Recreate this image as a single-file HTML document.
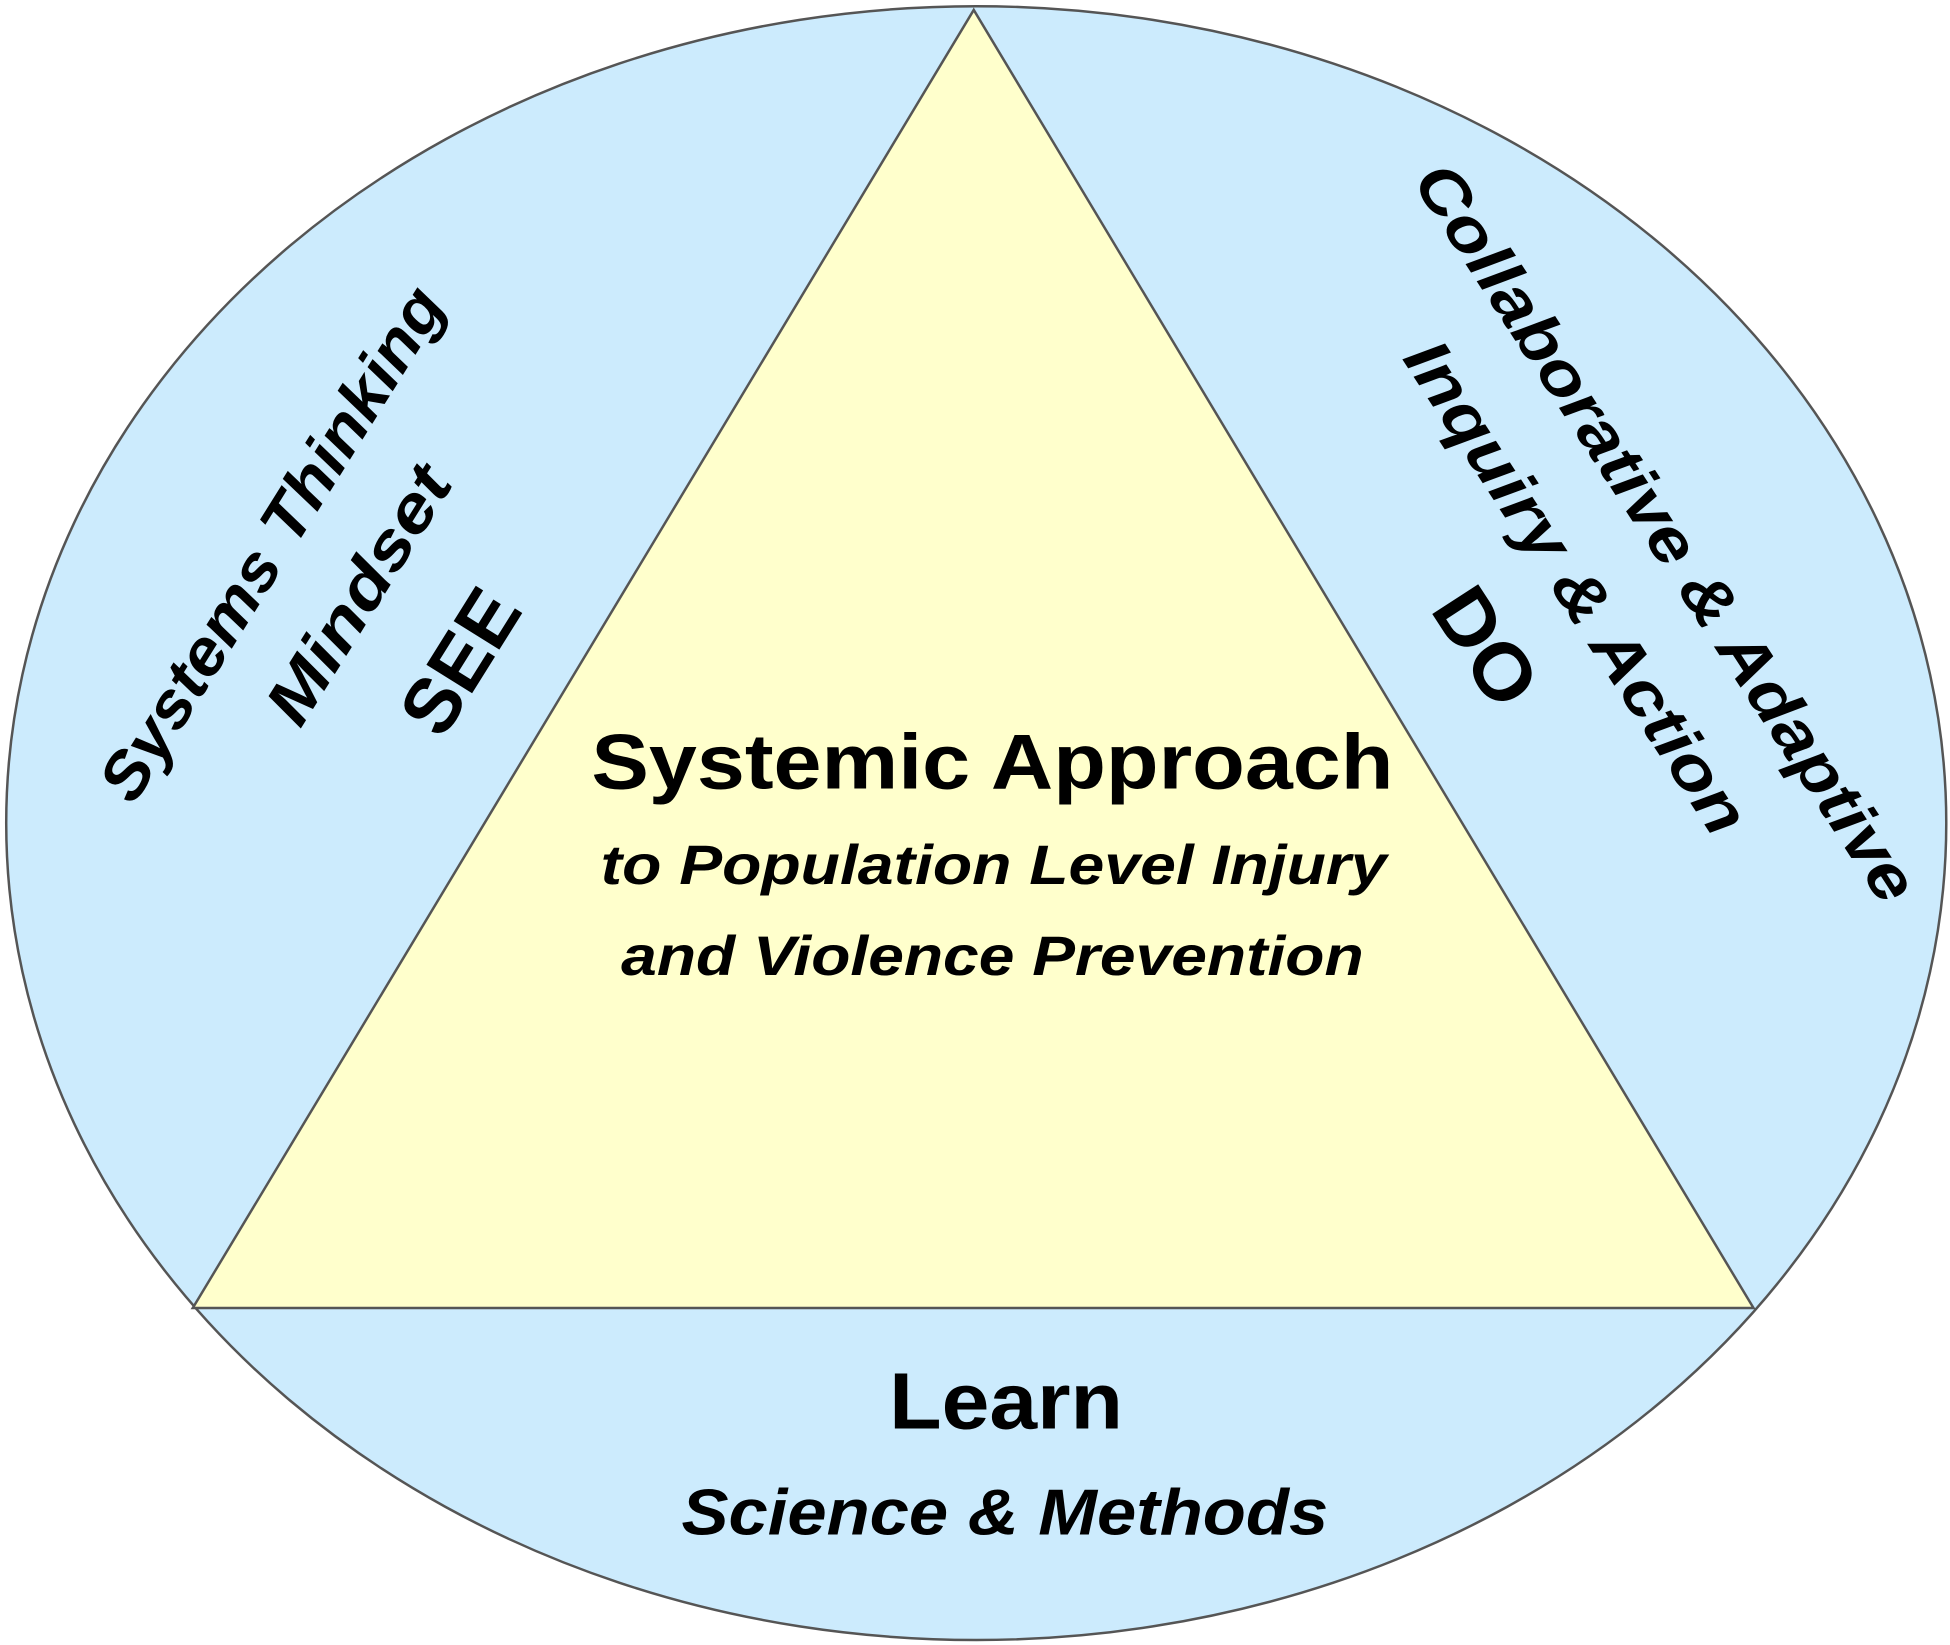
<!DOCTYPE html>
<html><head><meta charset="utf-8"><style>html,body{margin:0;padding:0;background:#fff}svg{display:block}</style></head>
<body>
<svg width="1950" height="1645" viewBox="0 0 1568 1323" preserveAspectRatio="none" xmlns="http://www.w3.org/2000/svg">
<ellipse cx="785" cy="662" rx="780" ry="657" fill="#CCEBFD" stroke="#555" stroke-width="2"/>
<polygon points="783,8 155,1052 1410,1052" fill="#FFFFCC" stroke="#555" stroke-width="2"/>
<g font-family="Liberation Sans, sans-serif" font-weight="bold" fill="#000">
<text x="798" y="634" font-size="63" text-anchor="middle" textLength="645" lengthAdjust="spacingAndGlyphs">Systemic Approach</text>
<text x="799" y="711" font-size="45" font-style="italic" text-anchor="middle" textLength="632" lengthAdjust="spacingAndGlyphs">to Population Level Injury</text>
<text x="798" y="784" font-size="45" font-style="italic" text-anchor="middle" textLength="597" lengthAdjust="spacingAndGlyphs">and Violence Prevention</text>
<text x="809" y="1149" font-size="64" text-anchor="middle" textLength="188" lengthAdjust="spacingAndGlyphs">Learn</text>
<text x="808" y="1234" font-size="52" font-style="italic" text-anchor="middle" textLength="520" lengthAdjust="spacingAndGlyphs">Science &amp; Methods</text>
<g transform="translate(218,437) rotate(-58)"><text x="0" y="0" font-size="52" font-style="italic" text-anchor="middle" dominant-baseline="central" textLength="476" lengthAdjust="spacingAndGlyphs">Systems Thinking</text></g>
<g transform="translate(288,478) rotate(-58)"><text x="0" y="0" font-size="52" font-style="italic" text-anchor="middle" dominant-baseline="central" textLength="234" lengthAdjust="spacingAndGlyphs">Mindset</text></g>
<g transform="translate(370,532) rotate(-58)"><text x="0" y="0" font-size="63" text-anchor="middle" dominant-baseline="central" textLength="124" lengthAdjust="spacingAndGlyphs">SEE</text></g>
<g transform="translate(1340,428) rotate(57)"><text x="0" y="0" font-size="52" font-style="italic" text-anchor="middle" dominant-baseline="central" textLength="697" lengthAdjust="spacingAndGlyphs">Collaborative &amp; Adaptive</text></g>
<g transform="translate(1268,472) rotate(57)"><text x="0" y="0" font-size="52" font-style="italic" text-anchor="middle" dominant-baseline="central" textLength="462" lengthAdjust="spacingAndGlyphs">Inquiry &amp; Action</text></g>
<g transform="translate(1195,520) rotate(57)"><text x="0" y="0" font-size="64" text-anchor="middle" dominant-baseline="central" textLength="100" lengthAdjust="spacingAndGlyphs">DO</text></g>
</g>
</svg>
</body></html>
